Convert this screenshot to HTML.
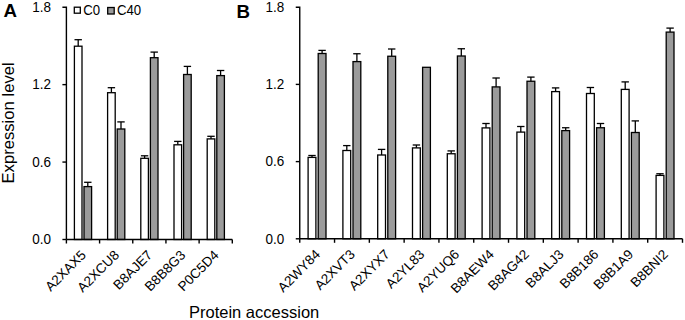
<!DOCTYPE html>
<html><head><meta charset="utf-8"><style>
html,body{margin:0;padding:0;background:#fff;}
body{width:685px;height:320px;overflow:hidden;}
svg{display:block;}
text{font-family:"Liberation Sans",sans-serif;fill:#000;}
.tl{font-size:13.5px;text-anchor:end;}
.xl{font-size:13.5px;text-anchor:end;}
.lg{font-size:13.2px;}
.ti{font-size:16.5px;}
.ab{font-size:18.7px;font-weight:bold;}
.ax{stroke:#000;stroke-width:1.4;fill:none;}
.b{stroke:#000;stroke-width:1.3;}
.e{stroke:#000;stroke-width:1.3;}
</style></head><body>
<svg width="685" height="320" viewBox="0 0 685 320">
<text x="3.4" y="17.3" class="ab">A</text>
<text x="236.6" y="17.8" class="ab">B</text>
<rect x="74.3" y="7.2" width="6" height="6" fill="#fff" class="b"/>
<text transform="translate(83.3 14.6) scale(1 1.12)" class="lg">C0</text>
<rect x="107.7" y="7.5" width="6.5" height="6.5" fill="#9b9b9b" class="b"/>
<text transform="translate(117.0 14.6) scale(1 1.12)" class="lg">C40</text>
<line x1="78.2" y1="39.7" x2="78.2" y2="46.2" class="e"/>
<line x1="74.5" y1="39.7" x2="81.9" y2="39.7" class="e"/>
<rect x="74.4" y="46.2" width="7.6" height="193.3" fill="#fff" class="b"/>
<line x1="87.8" y1="182.3" x2="87.8" y2="186.6" class="e"/>
<line x1="84.1" y1="182.3" x2="91.5" y2="182.3" class="e"/>
<rect x="84" y="186.6" width="7.6" height="52.9" fill="#9b9b9b" class="b"/>
<line x1="111.4" y1="87.7" x2="111.4" y2="92.7" class="e"/>
<line x1="107.7" y1="87.7" x2="115.1" y2="87.7" class="e"/>
<rect x="107.6" y="92.7" width="7.6" height="146.8" fill="#fff" class="b"/>
<line x1="121" y1="121.9" x2="121" y2="129" class="e"/>
<line x1="117.3" y1="121.9" x2="124.7" y2="121.9" class="e"/>
<rect x="117.2" y="129" width="7.6" height="110.5" fill="#9b9b9b" class="b"/>
<line x1="144.6" y1="155.8" x2="144.6" y2="158.3" class="e"/>
<line x1="140.9" y1="155.8" x2="148.3" y2="155.8" class="e"/>
<rect x="140.8" y="158.3" width="7.6" height="81.2" fill="#fff" class="b"/>
<line x1="154.2" y1="52.1" x2="154.2" y2="57.7" class="e"/>
<line x1="150.5" y1="52.1" x2="157.9" y2="52.1" class="e"/>
<rect x="150.4" y="57.7" width="7.6" height="181.8" fill="#9b9b9b" class="b"/>
<line x1="177.8" y1="141.4" x2="177.8" y2="144.8" class="e"/>
<line x1="174.1" y1="141.4" x2="181.5" y2="141.4" class="e"/>
<rect x="174" y="144.8" width="7.6" height="94.7" fill="#fff" class="b"/>
<line x1="187.4" y1="66.4" x2="187.4" y2="74.5" class="e"/>
<line x1="183.7" y1="66.4" x2="191.1" y2="66.4" class="e"/>
<rect x="183.6" y="74.5" width="7.6" height="165" fill="#9b9b9b" class="b"/>
<line x1="211" y1="136.3" x2="211" y2="138.9" class="e"/>
<line x1="207.3" y1="136.3" x2="214.7" y2="136.3" class="e"/>
<rect x="207.2" y="138.9" width="7.6" height="100.6" fill="#fff" class="b"/>
<line x1="220.6" y1="70.5" x2="220.6" y2="75.6" class="e"/>
<line x1="216.9" y1="70.5" x2="224.3" y2="70.5" class="e"/>
<rect x="216.8" y="75.6" width="7.6" height="163.9" fill="#9b9b9b" class="b"/>
<path d="M62.4 7.2H66.4V239.5" class="ax"/>
<path d="M62.4 84.63H66.4" class="ax"/>
<path d="M62.4 162.07H66.4" class="ax"/>
<path d="M62.4 239.5H66.4" class="ax"/>
<path d="M66.4 239.5H232.3" class="ax"/>
<path d="M66.4 239.5V243.5" class="ax"/>
<path d="M99.58 239.5V243.5" class="ax"/>
<path d="M132.76 239.5V243.5" class="ax"/>
<path d="M165.94 239.5V243.5" class="ax"/>
<path d="M199.12 239.5V243.5" class="ax"/>
<path d="M232.3 239.5V243.5" class="ax"/>
<text transform="translate(51.1 12) scale(1 1.1)" class="tl">1.8</text>
<text transform="translate(51.1 89.43) scale(1 1.1)" class="tl">1.2</text>
<text transform="translate(51.1 166.87) scale(1 1.1)" class="tl">0.6</text>
<text transform="translate(51.1 244.3) scale(1 1.1)" class="tl">0.0</text>
<text transform="translate(86.79 255.9) rotate(-45)" class="xl">A2XAX5</text>
<text transform="translate(119.97 255.9) rotate(-45)" class="xl">A2XCU8</text>
<text transform="translate(153.15 255.9) rotate(-45)" class="xl">B8AJE7</text>
<text transform="translate(186.33 255.9) rotate(-45)" class="xl">B8B8G3</text>
<text transform="translate(219.51 255.9) rotate(-45)" class="xl">P0C5D4</text>
<line x1="312" y1="155.5" x2="312" y2="157.4" class="e"/>
<line x1="308.3" y1="155.5" x2="315.7" y2="155.5" class="e"/>
<rect x="308.1" y="157.4" width="7.8" height="81.4" fill="#fff" class="b"/>
<line x1="322.1" y1="50.4" x2="322.1" y2="53.5" class="e"/>
<line x1="318.4" y1="50.4" x2="325.8" y2="50.4" class="e"/>
<rect x="318.2" y="53.5" width="7.8" height="185.3" fill="#9b9b9b" class="b"/>
<line x1="346.8" y1="145.6" x2="346.8" y2="150.5" class="e"/>
<line x1="343.1" y1="145.6" x2="350.5" y2="145.6" class="e"/>
<rect x="342.9" y="150.5" width="7.8" height="88.3" fill="#fff" class="b"/>
<line x1="356.9" y1="53.75" x2="356.9" y2="61.6" class="e"/>
<line x1="353.2" y1="53.75" x2="360.6" y2="53.75" class="e"/>
<rect x="353" y="61.6" width="7.8" height="177.2" fill="#9b9b9b" class="b"/>
<line x1="381.6" y1="149.4" x2="381.6" y2="155" class="e"/>
<line x1="377.9" y1="149.4" x2="385.3" y2="149.4" class="e"/>
<rect x="377.7" y="155" width="7.8" height="83.8" fill="#fff" class="b"/>
<line x1="391.7" y1="49" x2="391.7" y2="56.25" class="e"/>
<line x1="388" y1="49" x2="395.4" y2="49" class="e"/>
<rect x="387.8" y="56.25" width="7.8" height="182.55" fill="#9b9b9b" class="b"/>
<line x1="416.4" y1="145" x2="416.4" y2="147.9" class="e"/>
<line x1="412.7" y1="145" x2="420.1" y2="145" class="e"/>
<rect x="412.5" y="147.9" width="7.8" height="90.9" fill="#fff" class="b"/>
<rect x="422.6" y="67.3" width="7.8" height="171.5" fill="#9b9b9b" class="b"/>
<line x1="451.2" y1="150.9" x2="451.2" y2="153.75" class="e"/>
<line x1="447.5" y1="150.9" x2="454.9" y2="150.9" class="e"/>
<rect x="447.3" y="153.75" width="7.8" height="85.05" fill="#fff" class="b"/>
<line x1="461.3" y1="48.75" x2="461.3" y2="56" class="e"/>
<line x1="457.6" y1="48.75" x2="465" y2="48.75" class="e"/>
<rect x="457.4" y="56" width="7.8" height="182.8" fill="#9b9b9b" class="b"/>
<line x1="486" y1="123.5" x2="486" y2="127.9" class="e"/>
<line x1="482.3" y1="123.5" x2="489.7" y2="123.5" class="e"/>
<rect x="482.1" y="127.9" width="7.8" height="110.9" fill="#fff" class="b"/>
<line x1="496.1" y1="78" x2="496.1" y2="86.9" class="e"/>
<line x1="492.4" y1="78" x2="499.8" y2="78" class="e"/>
<rect x="492.2" y="86.9" width="7.8" height="151.9" fill="#9b9b9b" class="b"/>
<line x1="520.8" y1="126.5" x2="520.8" y2="132.1" class="e"/>
<line x1="517.1" y1="126.5" x2="524.5" y2="126.5" class="e"/>
<rect x="516.9" y="132.1" width="7.8" height="106.7" fill="#fff" class="b"/>
<line x1="530.9" y1="77.1" x2="530.9" y2="81.25" class="e"/>
<line x1="527.2" y1="77.1" x2="534.6" y2="77.1" class="e"/>
<rect x="527" y="81.25" width="7.8" height="157.55" fill="#9b9b9b" class="b"/>
<line x1="555.6" y1="87.9" x2="555.6" y2="91.6" class="e"/>
<line x1="551.9" y1="87.9" x2="559.3" y2="87.9" class="e"/>
<rect x="551.7" y="91.6" width="7.8" height="147.2" fill="#fff" class="b"/>
<line x1="565.7" y1="127.75" x2="565.7" y2="130.6" class="e"/>
<line x1="562" y1="127.75" x2="569.4" y2="127.75" class="e"/>
<rect x="561.8" y="130.6" width="7.8" height="108.2" fill="#9b9b9b" class="b"/>
<line x1="590.4" y1="87.5" x2="590.4" y2="93.5" class="e"/>
<line x1="586.7" y1="87.5" x2="594.1" y2="87.5" class="e"/>
<rect x="586.5" y="93.5" width="7.8" height="145.3" fill="#fff" class="b"/>
<line x1="600.5" y1="123.5" x2="600.5" y2="127.75" class="e"/>
<line x1="596.8" y1="123.5" x2="604.2" y2="123.5" class="e"/>
<rect x="596.6" y="127.75" width="7.8" height="111.05" fill="#9b9b9b" class="b"/>
<line x1="625.2" y1="81.9" x2="625.2" y2="89.4" class="e"/>
<line x1="621.5" y1="81.9" x2="628.9" y2="81.9" class="e"/>
<rect x="621.3" y="89.4" width="7.8" height="149.4" fill="#fff" class="b"/>
<line x1="635.3" y1="120.9" x2="635.3" y2="132.5" class="e"/>
<line x1="631.6" y1="120.9" x2="639" y2="120.9" class="e"/>
<rect x="631.4" y="132.5" width="7.8" height="106.3" fill="#9b9b9b" class="b"/>
<line x1="660" y1="173.75" x2="660" y2="175.4" class="e"/>
<line x1="656.3" y1="173.75" x2="663.7" y2="173.75" class="e"/>
<rect x="656.1" y="175.4" width="7.8" height="63.4" fill="#fff" class="b"/>
<line x1="670.1" y1="28.1" x2="670.1" y2="32.1" class="e"/>
<line x1="666.4" y1="28.1" x2="673.8" y2="28.1" class="e"/>
<rect x="666.2" y="32.1" width="7.8" height="206.7" fill="#9b9b9b" class="b"/>
<path d="M295.75 7.2H299.75V238.8" class="ax"/>
<path d="M295.75 84.4H299.75" class="ax"/>
<path d="M295.75 161.6H299.75" class="ax"/>
<path d="M295.75 238.8H299.75" class="ax"/>
<path d="M299.75 238.8H682.5" class="ax"/>
<path d="M299.75 238.8V242.8" class="ax"/>
<path d="M334.55 238.8V242.8" class="ax"/>
<path d="M369.34 238.8V242.8" class="ax"/>
<path d="M404.14 238.8V242.8" class="ax"/>
<path d="M438.93 238.8V242.8" class="ax"/>
<path d="M473.73 238.8V242.8" class="ax"/>
<path d="M508.52 238.8V242.8" class="ax"/>
<path d="M543.32 238.8V242.8" class="ax"/>
<path d="M578.11 238.8V242.8" class="ax"/>
<path d="M612.91 238.8V242.8" class="ax"/>
<path d="M647.7 238.8V242.8" class="ax"/>
<path d="M682.5 238.8V242.8" class="ax"/>
<text transform="translate(284.3 12) scale(1 1.1)" class="tl">1.8</text>
<text transform="translate(284.3 89.2) scale(1 1.1)" class="tl">1.2</text>
<text transform="translate(284.3 166.4) scale(1 1.1)" class="tl">0.6</text>
<text transform="translate(284.3 243.6) scale(1 1.1)" class="tl">0.0</text>
<text transform="translate(320.95 255.2) rotate(-45)" class="xl">A2WY84</text>
<text transform="translate(355.74 255.2) rotate(-45)" class="xl">A2XVT3</text>
<text transform="translate(390.54 255.2) rotate(-45)" class="xl">A2XYX7</text>
<text transform="translate(425.33 255.2) rotate(-45)" class="xl">A2YL83</text>
<text transform="translate(460.13 255.2) rotate(-45)" class="xl">A2YUQ6</text>
<text transform="translate(494.93 255.2) rotate(-45)" class="xl">B8AEW4</text>
<text transform="translate(529.72 255.2) rotate(-45)" class="xl">B8AG42</text>
<text transform="translate(564.52 255.2) rotate(-45)" class="xl">B8ALJ3</text>
<text transform="translate(599.31 255.2) rotate(-45)" class="xl">B8B186</text>
<text transform="translate(634.11 255.2) rotate(-45)" class="xl">B8B1A9</text>
<text transform="translate(668.9 255.2) rotate(-45)" class="xl">B8BNI2</text>
<text transform="translate(13.7 183.5) rotate(-90)" class="ti" style="font-size:16.65px">Expression level</text>
<text x="189" y="317.8" class="ti">Protein accession</text>
</svg>
</body></html>
